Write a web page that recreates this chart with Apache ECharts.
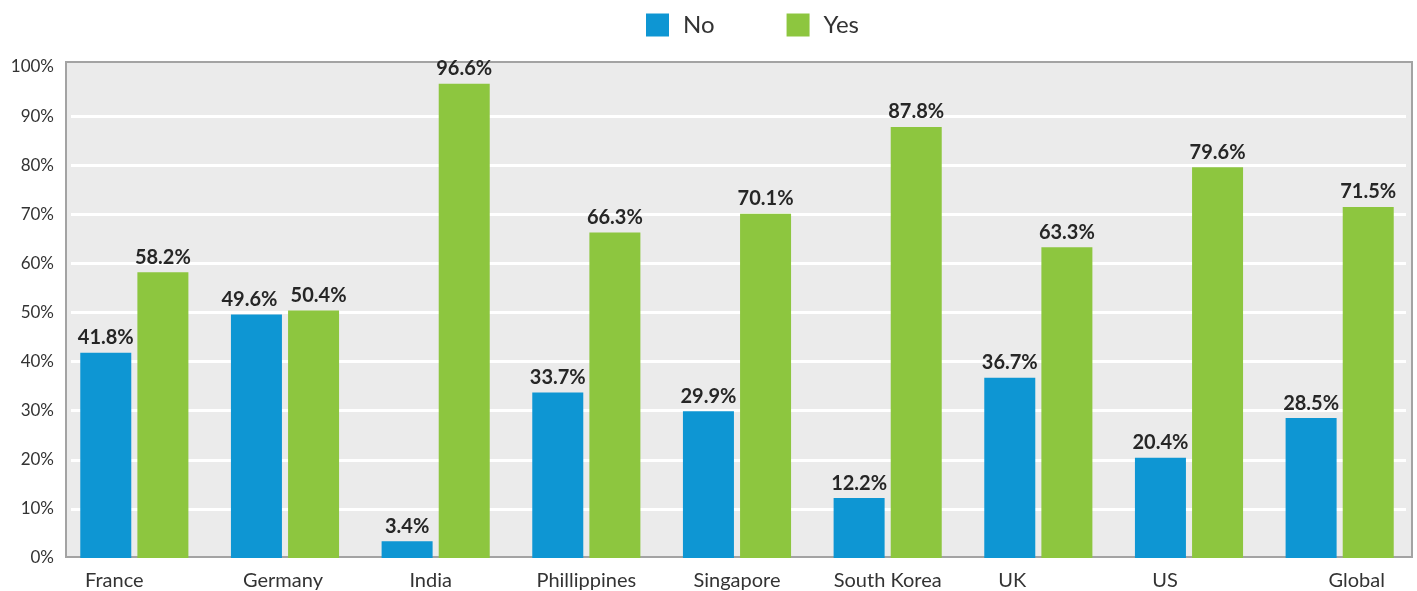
<!DOCTYPE html>
<html>
<head>
<meta charset="utf-8">
<script src="https://cdn.jsdelivr.net/npm/echarts@6/dist/echarts.min.js"></script>
<style>
  html, body { margin: 0; padding: 0; background: #fff; }
  #chart { width: 1417px; height: 591px; }
</style>
</head>
<body>
<div id="chart"></div>
<script>
// data
const countries = ['France', 'Germany', 'India', 'Phillippines', 'Singapore', 'South Korea', 'UK', 'US', 'Global']
const noValues = [41.8, 49.6, 3.4, 33.7, 29.9, 12.2, 36.7, 20.4, 28.5]
const yesValues = [58.2, 50.4, 96.6, 66.3, 70.1, 87.8, 63.3, 79.6, 71.5]
const yTicks = [0, 10, 20, 30, 40, 50, 60, 70, 80, 90, 100]

const FONT = 'Lato'
// label nudges so the category names sit where they do in the original
const labelShift = { France: -20, Germany: -2, India: -5, UK: -26, US: -24, Global: 17 }
// Germany's two value labels are pushed apart in the original
const valueLabelShift = { Germany: [-7, 5] }

const chart = echarts.init(document.getElementById('chart'))

const labelStyle = {
  show: true,
  position: 'top',
  distance: 5,
  formatter: (p) => p.value.toFixed(1) + '%',
  fontFamily: FONT,
  fontWeight: 'bold',
  fontSize: 20,
  color: '#262626'
}

const barData = (values, side) => values.map((v, i) => {
  const shift = valueLabelShift[countries[i]]
  return shift ? { value: v, label: { offset: [shift[side], 0] } } : v
})

chart.setOption({
  animation: false,
  textStyle: { fontFamily: FONT },
  legend: {
    top: 13,
    left: 646,
    padding: 0,
    itemWidth: 23,
    itemHeight: 23,
    itemGap: 72,
    icon: 'rect',
    textStyle: { fontSize: 24, color: '#333', padding: [0, 0, 0, 9] },
    data: ['No', 'Yes']
  },
  grid: [
    // framed backdrop
    { left: 66, right: 5, top: 62, bottom: 34, show: true, backgroundColor: '#ebebeb', borderColor: '#a3a3a3', borderWidth: 2 },
    // grid lines + y labels
    { left: 71, right: 11, top: 67, bottom: 33 },
    // bars
    { left: 59, right: 2, top: 67, bottom: 33 }
  ],
  xAxis: [
    { gridIndex: 0, type: 'value', show: false },
    { gridIndex: 1, type: 'value', show: false },
    {
      gridIndex: 2,
      type: 'category',
      data: countries.map((c) => ({
        value: c,
        textStyle: labelShift[c] ? { padding: labelShift[c] < 0 ? [0, -2 * labelShift[c], 0, 0] : [0, 0, 0, 2 * labelShift[c]] } : {}
      })),
      axisLine: { show: false },
      axisTick: { show: false },
      axisLabel: { fontSize: 20, color: '#333', margin: 13 }
    }
  ],
  yAxis: [
    { gridIndex: 0, type: 'value', show: false, min: 0, max: 100 },
    {
      gridIndex: 1,
      type: 'value',
      min: 0,
      max: 100,
      interval: 10,
      axisLine: { show: false },
      axisTick: { show: false },
      axisLabel: {
        margin: 17,
        fontSize: 17,
        color: '#333',
        formatter: (v) => (yTicks.includes(v) ? v + '%' : '')
      },
      splitLine: {
        show: true,
        lineStyle: { color: '#ffffff', width: 3 },
        showMinLine: false,
        showMaxLine: false
      }
    },
    { gridIndex: 2, type: 'value', show: false, min: 0, max: 100 }
  ],
  series: [
    {
      name: 'No',
      type: 'bar',
      xAxisIndex: 2,
      yAxisIndex: 2,
      barWidth: 51,
      barGap: '12%',
      itemStyle: { color: '#0e96d3' },
      label: labelStyle,
      data: barData(noValues, 0)
    },
    {
      name: 'Yes',
      type: 'bar',
      xAxisIndex: 2,
      yAxisIndex: 2,
      barWidth: 51,
      barGap: '12%',
      itemStyle: { color: '#8dc63f' },
      label: labelStyle,
      data: barData(yesValues, 1)
    }
  ]
})
</script>
</body>
</html>
